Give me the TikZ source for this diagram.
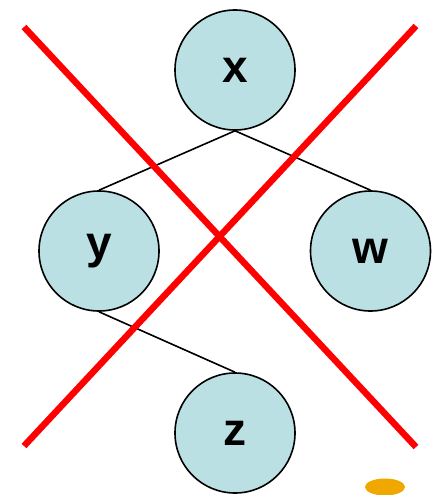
\documentclass[tikz,border=0pt]{standalone}
\usepackage{fontspec}
\setmainfont{Liberation Sans}
\usetikzlibrary{shapes.geometric}
\definecolor{nodefill}{HTML}{BBE0E3}
\definecolor{crossred}{HTML}{FF0000}
\definecolor{dotorange}{HTML}{F0A800}
\begin{document}
\begin{tikzpicture}[x=1pt,y=-1pt,
  treenode/.style={circle,draw=black,line width=1.6pt,fill=nodefill,minimum size=120pt,inner sep=0pt,font=\fontsize{46}{46}\selectfont\bfseries},
  edge/.style={draw=black,line width=1.6pt},
  cross/.style={draw=crossred,line width=6.5pt}]
\useasboundingbox (0,0) rectangle (431,495);
\node[treenode] (x) at (235,70) {x};
\node[treenode] (y) at (99,251) {y};
\node[treenode] (w) at (370.5,251) {w};
\node[treenode] (z) at (235,433) {z};
\draw[edge] (x.south) -- (y.north);
\draw[edge] (x.south) -- (w.north);
\draw[edge] (y.south) -- (z.north);
\coordinate (c1a) at (24,27);
\coordinate (c1b) at (416,447);
\coordinate (c2a) at (416,26);
\coordinate (c2b) at (24,446);
\draw[cross] (c1a) -- (c1b);
\draw[cross] (c2a) -- (c2b);
\node[ellipse,fill=dotorange,minimum width=40pt,minimum height=17pt,inner sep=0pt] (dot) at (385,487) {};
\end{tikzpicture}
\end{document}
